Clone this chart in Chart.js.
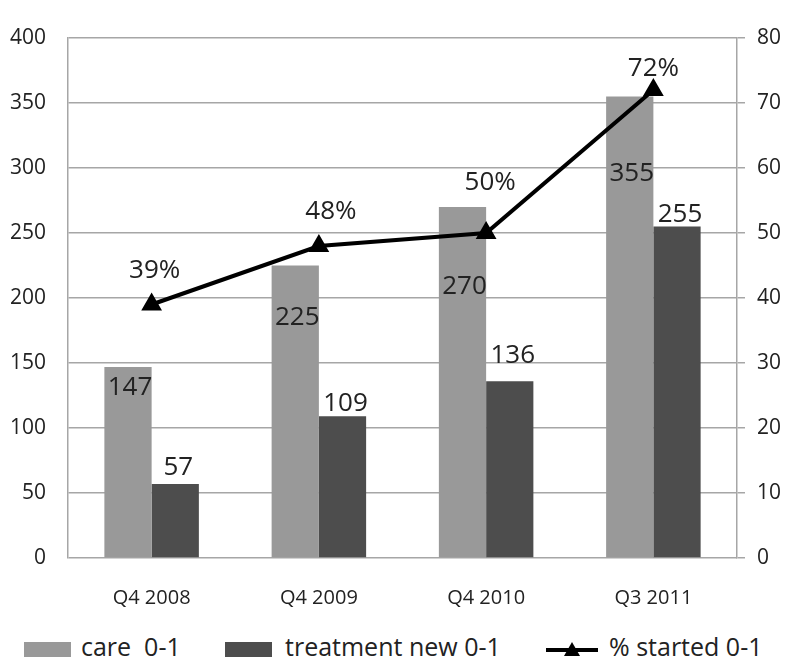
<!DOCTYPE html>
<html>
<head>
<meta charset="utf-8">
<script src="https://cdn.jsdelivr.net/npm/chart.js@4/dist/chart.umd.min.js"></script>
<style>
  html, body { margin: 0; padding: 0; background: #fff; }
  #wrap { position: relative; width: 800px; height: 667px; }
  #box { position: absolute; left: 0; top: 0; width: 800px; height: 625px; }
  #legend { position: absolute; left: 0; top: 631px; width: 800px; height: 30px;
            font-family: "Open Sans", sans-serif; font-size: 25px; color: #222; }
  .item { position: absolute; top: 0; height: 30px; line-height: 30px; white-space: pre; }
  .sw { position: absolute; top: 11px; width: 47px; height: 15px; }
  .lbl { position: absolute; top: 0; }
</style>
</head>
<body>
<div id="wrap">
  <div id="box"><canvas id="c"></canvas></div>
  <div id="legend">
    <div class="item" style="left:24px"><div class="sw" style="left:0;background:#999999"></div><span class="lbl" style="left:57px">care  0-1</span></div>
    <div class="item" style="left:225px"><div class="sw" style="left:0;background:#4d4d4d"></div><span class="lbl" style="left:60px">treatment new 0-1</span></div>
    <div class="item" style="left:545px"><svg style="position:absolute;left:0;top:7px" width="54" height="22"><line x1="1" y1="12" x2="53" y2="12" stroke="#000" stroke-width="4"/><polygon points="27,4 35,18 19,18" fill="#000"/></svg><span class="lbl" style="left:64px">% started 0-1</span></div>
  </div>
</div>
<script>
const categories = ["Q4 2008", "Q4 2009", "Q4 2010", "Q3 2011"];
const careValues = [147, 225, 270, 355];
const treatmentValues = [57, 109, 136, 255];
const startedPercent = [39, 48, 50, 72];
const leftTicks = [0, 50, 100, 150, 200, 250, 300, 350, 400];
const rightTicks = [0, 10, 20, 30, 40, 50, 60, 70, 80];

const FONT = '"Open Sans", sans-serif';

const valueLabels = {
  id: 'valueLabels',
  afterDatasetsDraw(chart) {
    const ctx = chart.ctx;
    ctx.save();
    ctx.font = '26px ' + FONT;
    ctx.fillStyle = '#222';
    ctx.textAlign = 'center';
    ctx.textBaseline = 'middle';
    const careOff = [21, 52, 80, 77];
    chart.getDatasetMeta(0).data.forEach((el, i) => {
      ctx.fillText(String(careValues[i]), el.x + 2, el.y + careOff[i]);
    });
    const trOff = [16, 13, 26, 12];
    chart.getDatasetMeta(1).data.forEach((el, i) => {
      ctx.fillText(String(treatmentValues[i]), el.x + 3, el.y - trOff[i]);
    });
    const offs = [34, 34, 50, 21];
    const dx = [3, 12, 4, 0];
    chart.getDatasetMeta(2).data.forEach((el, i) => {
      ctx.fillText(startedPercent[i] + '%', el.x + dx[i], el.y - offs[i]);
    });
    ctx.restore();
  }
};

new Chart(document.getElementById('c'), {
  data: {
    labels: categories,
    datasets: [
      { type: 'bar', label: 'care  0-1', data: careValues, backgroundColor: '#999999',
        yAxisID: 'y', categoryPercentage: 0.565, barPercentage: 1.0, order: 2 },
      { type: 'bar', label: 'treatment new 0-1', data: treatmentValues, backgroundColor: '#4d4d4d',
        yAxisID: 'y', categoryPercentage: 0.565, barPercentage: 1.0, order: 2 },
      { type: 'line', label: '% started 0-1', data: startedPercent, borderColor: '#000',
        backgroundColor: '#000', borderWidth: 4, pointStyle: 'triangle', pointRadius: 8,
        pointBackgroundColor: '#000', pointBorderColor: '#000', yAxisID: 'y1', tension: 0, order: 1 }
    ]
  },
  options: {
    responsive: true,
    maintainAspectRatio: false,
    animation: false,
    layout: { padding: { top: 38, left: 0, right: 0, bottom: 0 } },
    plugins: { legend: { display: false }, tooltip: { enabled: false } },
    scales: {
      x: {
        grid: { display: false, drawTicks: false },
        border: { display: false },
        ticks: { font: { family: FONT, size: 20 }, color: '#222', padding: 28 },
        afterFit(s) { s.height = 67; }
      },
      y: {
        position: 'left', min: 0, max: 400,
        afterBuildTicks(s) { s.ticks = leftTicks.map(v => ({ value: v })); },
        grid: { color: '#a6a6a6', lineWidth: 1.5, drawTicks: false },
        border: { display: true, color: '#a6a6a6', width: 1.5 },
        ticks: { font: { family: FONT, size: 21 }, color: '#222', padding: 22 },
        afterFit(s) { s.width = 68; }
      },
      y1: {
        position: 'right', min: 0, max: 80,
        afterBuildTicks(s) { s.ticks = rightTicks.map(v => ({ value: v })); },
        grid: { drawOnChartArea: false, drawTicks: true, tickLength: 8, color: '#a6a6a6', lineWidth: 1.5 },
        border: { display: true, color: '#a6a6a6', width: 1.5 },
        ticks: { font: { family: FONT, size: 21 }, color: '#222', padding: 12 },
        afterFit(s) { s.width = 63; }
      }
    }
  },
  plugins: [valueLabels]
});
</script>
</body>
</html>
